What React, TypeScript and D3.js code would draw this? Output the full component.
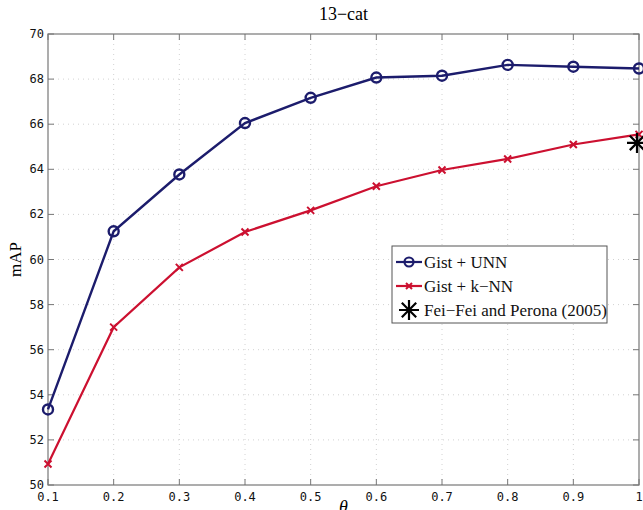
import { useEffect, useRef } from "react"
import * as d3 from "d3"

const thetas = [0.1, 0.2, 0.3, 0.4, 0.5, 0.6, 0.7, 0.8, 0.9, 1.0]
const unnValues = [53.35, 61.25, 63.77, 66.05, 67.17, 68.07, 68.15, 68.63, 68.55, 68.47]
const knnValues = [50.93, 57.0, 59.65, 61.22, 62.18, 63.25, 63.97, 64.46, 65.1, 65.55]
const feiFeiPoint = { theta: 1.0, value: 65.17 }
const xTicks = [0.1, 0.2, 0.3, 0.4, 0.5, 0.6, 0.7, 0.8, 0.9, 1]
const yTicks = [50, 52, 54, 56, 58, 60, 62, 64, 66, 68, 70]
const legendLabels = ["Gist + UNN", "Gist + k\u2212NN", "Fei\u2212Fei and Perona (2005)"]

const W = 643
const H = 510
const margin = { top: 34, right: 4, bottom: 25, left: 48 }
const navy = "#1c1c6c"
const red = "#cc1030"

const App = () => {
  const ref = useRef<SVGSVGElement>(null)

  useEffect(() => {
    const svg = d3.select(ref.current)
    svg.selectAll("*").remove()

    const x = d3.scaleLinear().domain([0.1, 1]).range([margin.left, W - margin.right])
    const y = d3.scaleLinear().domain([50, 70]).range([H - margin.bottom, margin.top])
    const [x0, x1] = x.range()
    const [y0, y1] = y.range()

    svg.append("rect").attr("width", W).attr("height", H).attr("fill", "#fff")

    // grid
    const grid = svg.append("g").attr("stroke", "#d2d2d2").attr("stroke-dasharray", "1,4")
    grid
      .selectAll("line.gx")
      .data(xTicks.slice(1, -1))
      .join("line")
      .attr("class", "gx")
      .attr("x1", (d) => x(d))
      .attr("x2", (d) => x(d))
      .attr("y1", y0)
      .attr("y2", y1)
    grid
      .selectAll("line.gy")
      .data(yTicks.slice(1, -1))
      .join("line")
      .attr("class", "gy")
      .attr("x1", x0)
      .attr("x2", x1)
      .attr("y1", (d) => y(d))
      .attr("y2", (d) => y(d))

    // box + inner ticks
    const axisColor = "#777"
    svg
      .append("rect")
      .attr("x", x0)
      .attr("y", y1)
      .attr("width", x1 - x0)
      .attr("height", y0 - y1)
      .attr("fill", "none")
      .attr("stroke", axisColor)
      .attr("stroke-width", 1.2)
    const ticks = svg.append("g").attr("stroke", axisColor)
    xTicks.forEach((t) => {
      ticks.append("line").attr("x1", x(t)).attr("x2", x(t)).attr("y1", y0).attr("y2", y0 - 6)
      ticks.append("line").attr("x1", x(t)).attr("x2", x(t)).attr("y1", y1).attr("y2", y1 + 6)
    })
    yTicks.forEach((t) => {
      ticks.append("line").attr("x1", x0).attr("x2", x0 + 6).attr("y1", y(t)).attr("y2", y(t))
      ticks.append("line").attr("x1", x1).attr("x2", x1 - 6).attr("y1", y(t)).attr("y2", y(t))
    })

    const tickFont = "DejaVu Sans Mono, monospace"
    svg
      .append("g")
      .selectAll("text")
      .data(xTicks)
      .join("text")
      .attr("x", (d) => x(d))
      .attr("y", y0 + 16)
      .attr("text-anchor", "middle")
      .attr("font-family", tickFont)
      .attr("font-size", 12)
      .attr("fill", "#111")
      .text((d) => String(d))
    svg
      .append("g")
      .selectAll("text")
      .data(yTicks)
      .join("text")
      .attr("x", x0 - 4)
      .attr("y", (d) => y(d) + 4)
      .attr("text-anchor", "end")
      .attr("font-family", tickFont)
      .attr("font-size", 12)
      .attr("fill", "#111")
      .text((d) => d)

    const serif = "Liberation Serif, Times New Roman, serif"
    svg
      .append("text")
      .attr("x", (x0 + x1) / 2)
      .attr("y", 20)
      .attr("text-anchor", "middle")
      .attr("font-family", serif)
      .attr("font-size", 18)
      .text("13\u2212cat")
    svg
      .append("text")
      .attr("transform", `translate(21, ${(y0 + y1) / 2}) rotate(-90)`)
      .attr("text-anchor", "middle")
      .attr("font-family", serif)
      .attr("font-size", 17)
      .text("mAP")
    svg
      .append("text")
      .attr("x", (x0 + x1) / 2)
      .attr("y", H + 3)
      .attr("text-anchor", "middle")
      .attr("font-family", serif)
      .attr("font-size", 18)
      .attr("font-style", "italic")
      .text("\u03b8")

    const line = d3
      .line<number>()
      .x((_, i) => x(thetas[i]))
      .y((d) => y(d))

    const drawX = (g: any, cx: number, cy: number, s: number, color: string, w: number) => {
      g.append("path")
        .attr("d", `M${cx - s},${cy - s}L${cx + s},${cy + s}M${cx - s},${cy + s}L${cx + s},${cy - s}`)
        .attr("stroke", color)
        .attr("stroke-width", w)
    }

    // k-NN
    svg
      .append("path")
      .datum(knnValues)
      .attr("d", line)
      .attr("fill", "none")
      .attr("stroke", red)
      .attr("stroke-width", 2.2)
    const knnG = svg.append("g")
    knnValues.forEach((v, i) => drawX(knnG, x(thetas[i]), y(v), 3.5, red, 2))

    // UNN
    svg
      .append("path")
      .datum(unnValues)
      .attr("d", line)
      .attr("fill", "none")
      .attr("stroke", navy)
      .attr("stroke-width", 2.4)
    svg
      .append("g")
      .selectAll("circle")
      .data(unnValues)
      .join("circle")
      .attr("cx", (_, i) => x(thetas[i]))
      .attr("cy", (d) => y(d))
      .attr("r", 5)
      .attr("fill", "none")
      .attr("stroke", navy)
      .attr("stroke-width", 2.4)

    const drawStar = (g: any, cx: number, cy: number, s: number) => {
      drawX(g, cx, cy, s * 0.72, "#000", 2.2)
      g.append("path")
        .attr("d", `M${cx - s},${cy}L${cx + s},${cy}M${cx},${cy - s}L${cx},${cy + s}`)
        .attr("stroke", "#000")
        .attr("stroke-width", 2.2)
    }
    drawStar(svg.append("g"), x(feiFeiPoint.theta) - 2, y(feiFeiPoint.value), 10)

    // legend
    const lg = svg.append("g").attr("transform", "translate(392,246)")
    lg.append("rect")
      .attr("width", 215)
      .attr("height", 77)
      .attr("fill", "#fff")
      .attr("stroke", "#555")
      .attr("stroke-width", 1)
    legendLabels.forEach((label, i) => {
      const cy = 16 + i * 24
      if (i < 2) {
        lg.append("line")
          .attr("x1", 4)
          .attr("x2", 30)
          .attr("y1", cy)
          .attr("y2", cy)
          .attr("stroke", i === 0 ? navy : red)
          .attr("stroke-width", 2.2)
      }
      if (i === 0) {
        lg.append("circle").attr("cx", 17).attr("cy", cy).attr("r", 4.5).attr("fill", "none").attr("stroke", navy).attr("stroke-width", 2.2)
      } else if (i === 1) {
        drawX(lg, 17, cy, 3, red, 2)
      } else {
        drawStar(lg, 17, cy, 10)
      }
      lg.append("text")
        .attr("x", 32)
        .attr("y", cy + 5.5)
        .attr("font-family", serif)
        .attr("font-size", 17)
        .attr("fill", "#111")
        .text(label)
    })
  }, [])

  return (
    <svg
      ref={ref}
      width={W}
      height={H}
      viewBox={`0 0 ${W} ${H}`}
      style={{ position: "absolute", left: 0, top: 0, display: "block" }}
    />
  )
}

export default App
